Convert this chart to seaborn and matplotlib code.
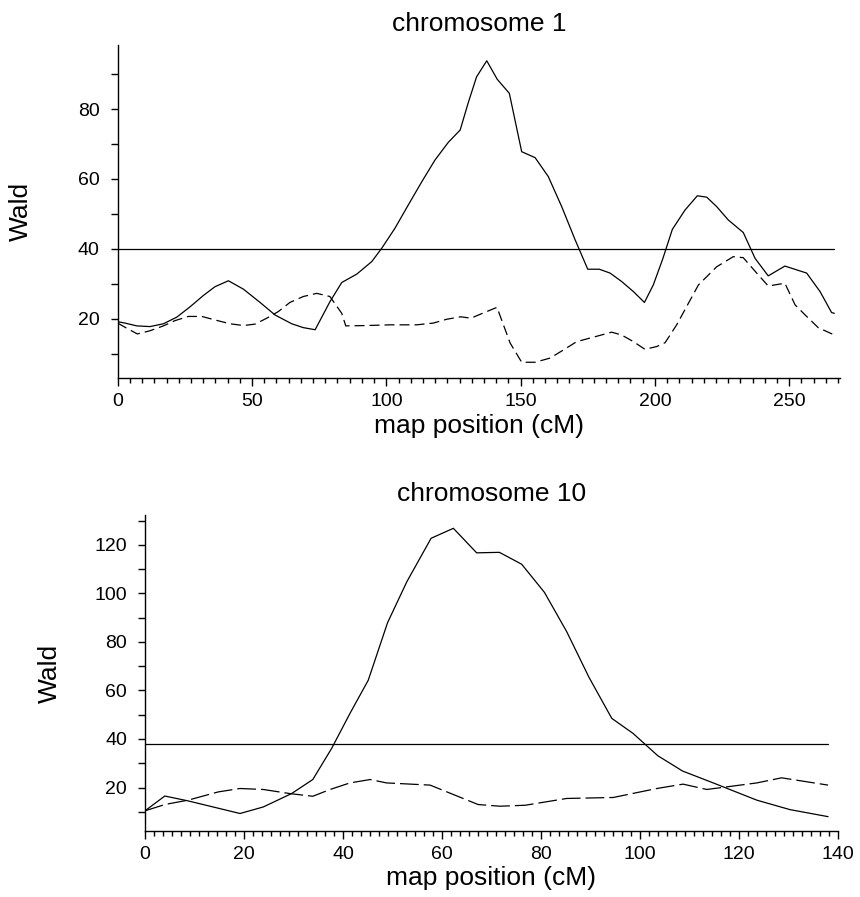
import matplotlib
matplotlib.use("Agg")
import matplotlib.pyplot as plt
from matplotlib.ticker import MultipleLocator, AutoMinorLocator
import seaborn as sns
import pandas as pd

# ---- chromosome 1 ----
chr1_solid_x = [0, 2.7, 7.1, 12, 17, 22, 27, 31.9, 36.2, 41.2, 46.8, 53, 58.6, 64.8, 69.1, 73.5,
                79, 83.4, 89, 94.6, 98.3, 103.2, 108.2, 113.2, 118.1, 123.1, 127.5, 130.5, 133.6,
                137.4, 141.3, 145.8, 150.4, 155.4, 160.3, 165.3, 170.3, 175, 179.3, 183.3, 187.6,
                192, 196.1, 199.4, 202.9, 206.5, 211.2, 215.8, 219.3, 223, 227.3, 232.9, 237.3,
                242.2, 248.4, 256.5, 261.5, 265.8, 266.8]
chr1_solid_y = [19.2, 18.8, 18, 17.8, 18.6, 20.5, 23.5, 26.7, 29.2, 30.9, 28.5, 24.7, 21.1, 18.6, 17.5, 16.9,
                24.9, 30.4, 32.8, 36.4, 40.2, 45.9, 52.6, 59.2, 65.4, 70.5, 74, 81.8, 89.2,
                93.8, 88.5, 84.5, 67.8, 66.1, 60.7, 52.1, 42.6, 34.2, 34.2, 33.1, 30.7,
                27.8, 24.7, 29.7, 37.1, 45.6, 51.1, 55.2, 54.8, 52.1, 48.3, 44.7, 37.3,
                32.3, 35.1, 33.1, 27.8, 21.8, 21.6]

chr1_dash_x = [0, 3.4, 7.3, 12, 17, 21.3, 26.3, 31.3, 36.2, 41.8, 46.8, 51.1, 55.5, 59.8, 64.1, 69.1,
               74.1, 79, 83.4, 84.9, 92.7, 101.4, 111.3, 117.5, 122.5, 127.7, 131.5, 134.9, 141.2,
               146.1, 150.4, 155.4, 161, 165.9, 170.9, 177.7, 183.9, 187.6, 192, 196.3, 200.7,
               203.8, 208.1, 211.8, 216.2, 223, 229.2, 232.9, 237.9, 242.2, 248.4, 252.2, 256.5,
               260.8, 266.8]
chr1_dash_y = [18.8, 17.3, 15.7, 16.6, 18, 19.5, 20.7, 20.7, 19.7, 18.6, 18.1, 18.5, 20.2, 22.1, 24.7, 26.4,
               27.3, 26.4, 21.6, 18, 18.1, 18.3, 18.3, 18.8, 19.9, 20.6, 20.2, 21.3, 23.3,
               13.1, 7.6, 7.6, 8.8, 11.1, 13.5, 14.9, 16.2, 15.4, 13.5, 11.3, 12.1,
               13.2, 18.3, 23.5, 29.7, 34.9, 37.8, 37.5, 33.1, 29.4, 30.2, 24, 20.7,
               17.5, 15.4]
chr1_threshold = 40

# ---- chromosome 10 ----
chr10_solid_x = [0, 4, 8.7, 19.2, 23.9, 29.6, 33.9, 37.7, 41.4, 45.1, 49, 52.9, 57.8, 62.3, 67,
                 71.6, 76.1, 80.7, 85.2, 89.7, 94.3, 98.6, 103.6, 108.6, 114.8, 123.6, 130.3, 138]
chr10_solid_y = [10.4, 16.5, 14.5, 9.3, 12, 17.5, 23.3, 36.1, 50.5, 64.2, 87.9, 104.8, 122.7, 126.8, 116.7,
                 116.9, 112, 100.4, 84.2, 65.4, 48.5, 42.3, 33.1, 26.8, 21.9, 14.8, 10.9, 8]

chr10_dash_x = [0, 4, 8.7, 14.8, 19.2, 23.9, 29.3, 33.9, 37.4, 41.4, 45.5, 48.8, 57.6, 67.3, 71.7,
                76.8, 85.2, 94.6, 103.4, 108.7, 113.5, 123.6, 128.6, 138]
chr10_dash_y = [10.4, 13, 14.8, 18.2, 19.6, 19.2, 17.5, 16.4, 19.2, 21.9, 23.3, 21.9, 21, 13, 12.3,
                12.7, 15.5, 15.9, 19.6, 21.4, 19.2, 21.9, 24, 21]
chr10_threshold = 38

titles = ["chromosome 1", "chromosome 10"]
xlabel = "map position (cM)"
ylabel = "Wald"

sns.set_theme(style="ticks")
plt.rcParams["font.family"] = ["Liberation Sans", "DejaVu Sans"]
plt.rcParams["axes.linewidth"] = 1.0
for k in ["text.color", "axes.labelcolor", "xtick.color", "ytick.color", "axes.edgecolor"]:
    plt.rcParams[k] = "black"

fig = plt.figure(figsize=(8.6, 8.97), dpi=100)
ax1 = fig.add_axes([0.1369, 0.5786, 0.8401, 0.3712])
ax2 = fig.add_axes([0.1686, 0.0736, 0.8058, 0.3523])

configs = [
    (ax1, chr1_solid_x, chr1_solid_y, chr1_dash_x, chr1_dash_y, chr1_threshold,
     (0, 269), (3.1, 98.3), 50, 11, 20, (8, 4), -0.118, -0.108),
    (ax2, chr10_solid_x, chr10_solid_y, chr10_dash_x, chr10_dash_y, chr10_threshold,
     (0, 140), (2.1, 132.3), 20, 11, 20, (15, 4), -0.12, -0.112),
]

for i, (ax, sx, sy, dx, dy, thr, xl, yl, xmaj, xmin_n, ymaj, dash, ylx, xly) in enumerate(configs):
    df_s = pd.DataFrame({"x": sx, "y": sy})
    df_d = pd.DataFrame({"x": dx, "y": dy})
    df_t = pd.DataFrame({"x": [0, max(sx)], "y": [thr, thr]})
    sns.lineplot(data=df_s, x="x", y="y", ax=ax, color="black", lw=0.9, sort=False)
    sns.lineplot(data=df_d, x="x", y="y", ax=ax, color="black", lw=0.9, sort=False,
                 dashes=False, linestyle=(0, dash))
    sns.lineplot(data=df_t, x="x", y="y", ax=ax, color="black", lw=0.9, sort=False)
    ax.set_xlim(*xl)
    ax.set_ylim(*yl)
    ax.xaxis.set_major_locator(MultipleLocator(xmaj))
    ax.xaxis.set_minor_locator(AutoMinorLocator(xmin_n))
    ax.yaxis.set_major_locator(MultipleLocator(ymaj))
    ax.yaxis.set_minor_locator(AutoMinorLocator(2))
    ax.tick_params(axis="x", which="major", length=6, width=1, labelsize=14, pad=5)
    ax.tick_params(axis="x", which="minor", length=3.5, width=1)
    ax.tick_params(axis="y", which="both", length=5, width=1, labelsize=14, pad=8)
    sns.despine(ax=ax)
    ax.set_title(titles[i], fontsize=19, pad=10)
    ax.set_xlabel(xlabel, fontsize=19)
    ax.set_ylabel(ylabel, fontsize=19)
    ax.yaxis.set_label_coords(ylx, 0.5)
    ax.xaxis.set_label_coords(0.5, xly)

fig.savefig("out.png", dpi=100, facecolor="white")
